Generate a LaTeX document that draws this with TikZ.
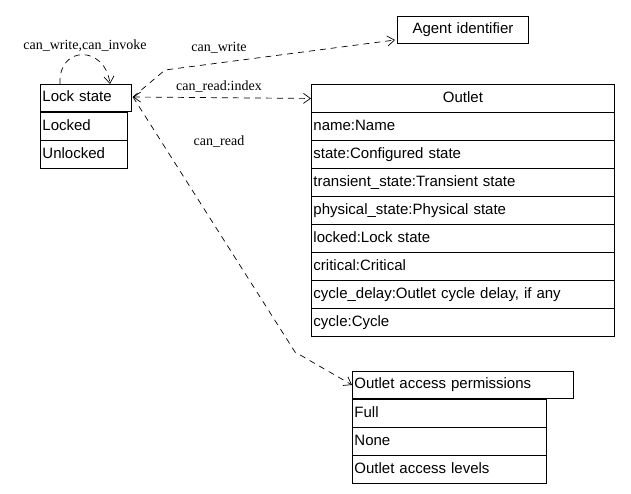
\documentclass[tikz,border=0pt]{standalone}
\usepackage{fontspec}
\setmainfont{Liberation Sans}
\newfontfamily\lbl{Liberation Serif}
\usetikzlibrary{arrows.meta}
\begin{document}
\begin{tikzpicture}[x=1pt,y=-1pt,
 cell/.style={draw,line width=0.9pt,anchor=north west,inner sep=2pt,font=\fontsize{15}{15}\selectfont,text height=11pt,text depth=3pt},
 rel/.style={dashed,line width=0.7pt,dash pattern=on 6pt off 5pt},
 lab/.style={font=\lbl\fontsize{14}{14}\selectfont,inner sep=1pt},
 tip/.style={-{Straight Barb[length=7pt,width=10pt]}}]
\fill[white] (0,0) rectangle (631,493);
\useasboundingbox (0,0) rectangle (631,493);
% Lock state
\node[cell,minimum width=91pt,minimum height=27pt,text width=87pt] (ls) at (40,84) {Lock state};
\node[cell,minimum width=87pt,minimum height=28pt,text width=83pt] (lk) at (40,112) {Locked};
\node[cell,minimum width=87pt,minimum height=28pt,text width=83pt] (ul) at (40,140) {Unlocked};
% Agent
\node[cell,minimum width=131pt,minimum height=27pt,text width=127pt,align=center] (ag) at (397,16) {Agent identifier};
% Outlet
\node[cell,minimum width=303pt,minimum height=28pt,text width=299pt,align=center] (out) at (311,84) {Outlet};
\foreach \t [count=\i] in {name:Name,state:Configured state,transient\_state:Transient state,physical\_state:Physical state,locked:Lock state,critical:Critical,{cycle\_delay:Outlet cycle delay, if any},cycle:Cycle}{
 \node[cell,minimum width=303pt,minimum height=28pt,text width=299pt] (o\i) at (311,84+28*\i) {\t};
}
% Permissions
\node[cell,minimum width=221pt,minimum height=27pt,text width=217pt] (ap) at (352,371) {Outlet access permissions};
\node[cell,minimum width=194pt,minimum height=28pt,text width=190pt] (p1) at (352,399) {Full};
\node[cell,minimum width=194pt,minimum height=28pt,text width=190pt] (p2) at (352,427) {None};
\node[cell,minimum width=194pt,minimum height=28pt,text width=190pt] (p3) at (352,455) {Outlet access levels};
% coordinates
\coordinate (lsE) at (133,97);
\coordinate (loopA) at (60,84);
\coordinate (loopB) at (110,84);
% edges
\draw[rel,tip] (loopA) .. controls (58,45) and (105,45) .. (loopB);
\node[lab] at (85,46) {can\_write,can\_invoke};
\draw[rel,tip] (lsE) -- (165,70) -- (395,40);
\node[lab] at (219,48) {can\_write};
\draw[rel,{Straight Barb[length=7pt,width=10pt]}-{Straight Barb[length=7pt,width=10pt]}] (lsE) -- (out.west);
\node[lab] at (219,87) {can\_read:index};
\draw[rel,tip] (lsE) -- (295,352) -- (ap.west);
\node[lab] at (219,142) {can\_read};
\end{tikzpicture}
\end{document}
